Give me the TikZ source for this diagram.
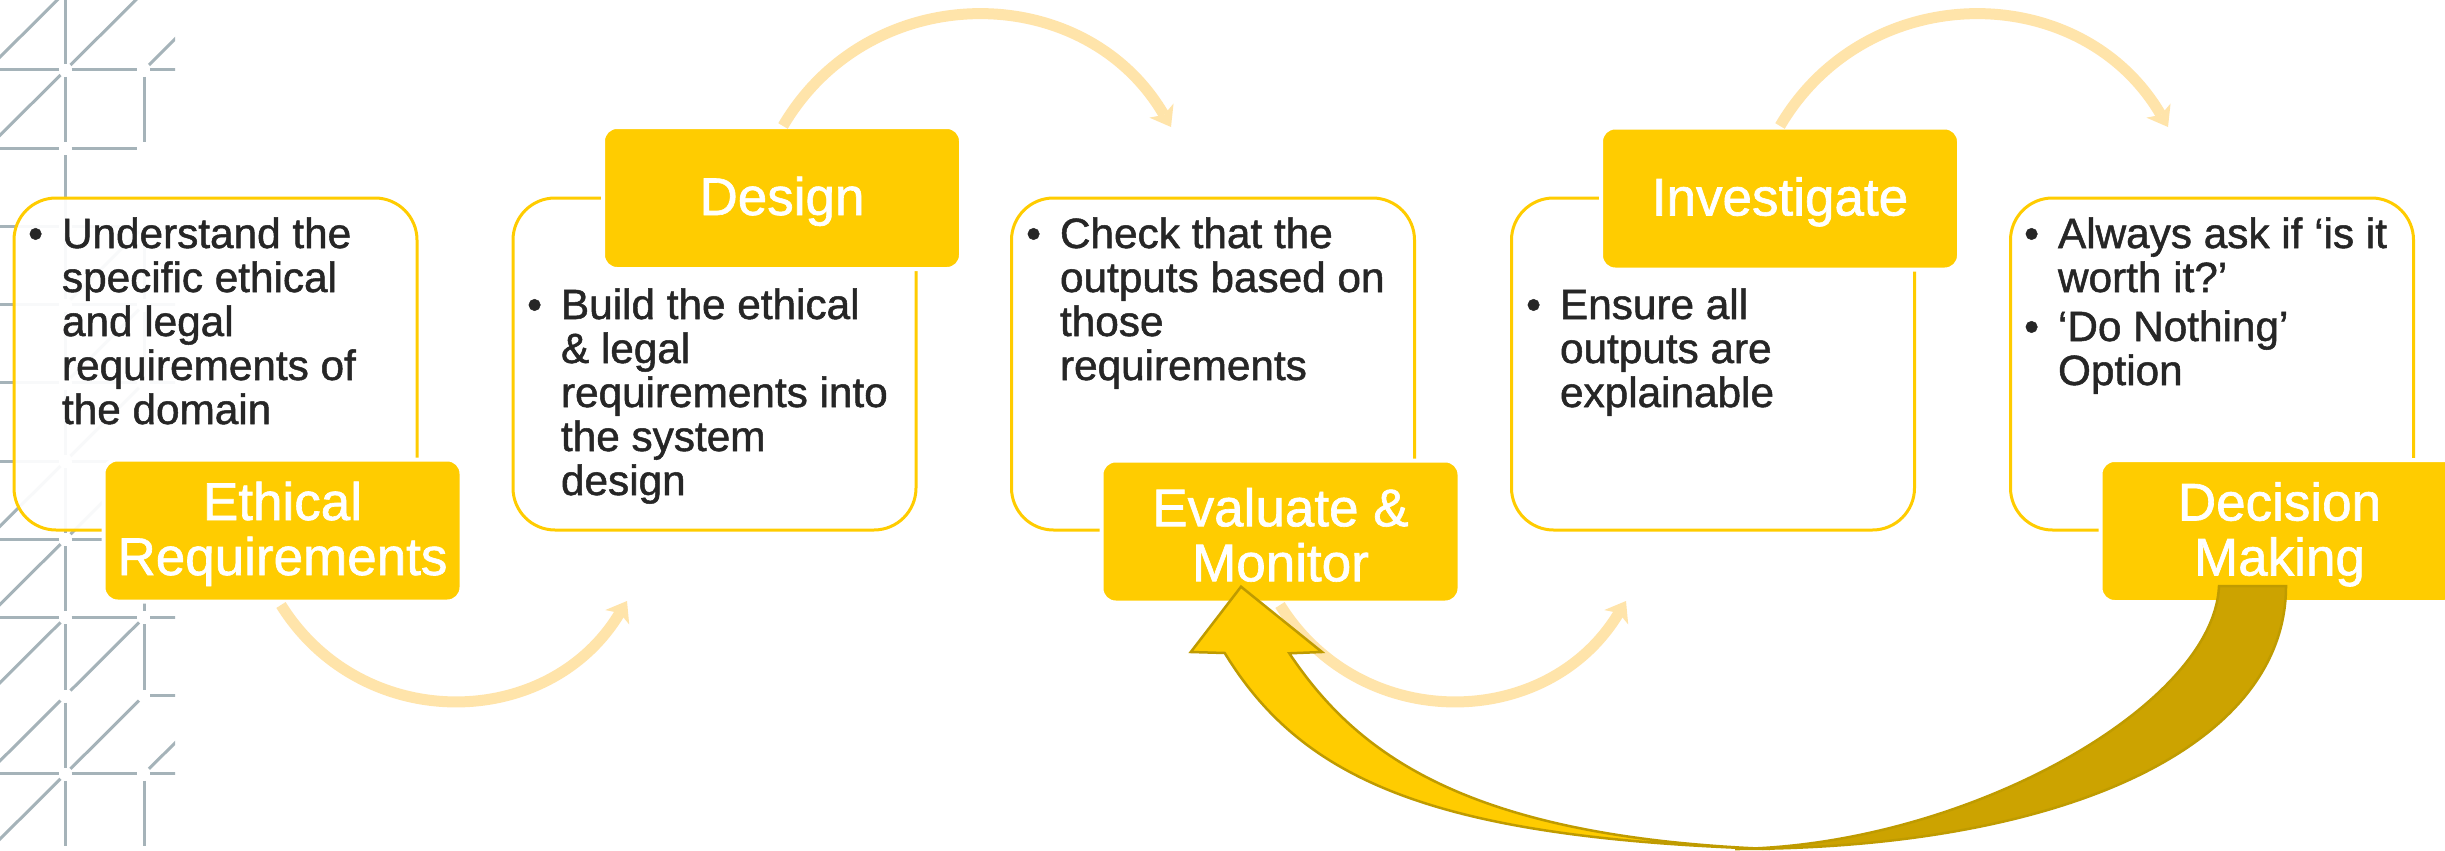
\documentclass[tikz,border=0pt]{standalone}
\usepackage{fontspec}
\setmainfont{Liberation Sans}[FakeBold=1.2]
\usetikzlibrary{arrows.meta}
\definecolor{gold}{HTML}{FFCC00}
\definecolor{goldback}{HTML}{CCA300}
\definecolor{goldline}{HTML}{BF9B00}
\definecolor{arcc}{HTML}{FFE4AA}
\definecolor{patc}{HTML}{A5B3B9}
\definecolor{txt}{HTML}{262626}
\newcommand\labstrut{\rule{0pt}{45pt}}
\begin{document}
\begin{tikzpicture}[x=1pt,y=-1pt,
  cbox/.style={draw=gold, line width=3pt, fill=white, fill opacity=0.93, rounded corners=42pt,
    minimum width=403pt, minimum height=332pt, inner sep=0pt},
  lbox/.style={draw=white, line width=4pt, fill=gold, rounded corners=14pt,
    minimum width=358pt, minimum height=142pt, inner sep=0pt, text=white, align=center,
    font=\fontsize{53}{55}\selectfont},
  ctext/.style={anchor=base west, inner sep=0pt, text=txt, font=\fontsize{42.3}{44}\selectfont},
  flow/.style={draw=arcc, line width=11pt, -{Stealth[length=19pt,width=28pt,inset=5pt,line width=0pt]}},
  pat/.style={draw=patc, line width=3pt},
  bigarrow/.style={draw=goldline, line width=2.5pt, line join=miter},
]
\useasboundingbox (0,0) rectangle (2445,851);
\fill[white] (0,0) rectangle (2445,851);

% background pattern
\begin{scope}
\clip (0,0) rectangle (175,851);
\foreach \i/\j in {0/1,1/1,2/1,0/2,1/2,0/3,1/3,0/4,1/4,2/4,0/5,1/5,2/5,0/6,1/6,0/7,1/7,0/8,1/8,2/8,2/9,0/10,1/10,2/10}
  \draw[pat] ({-13+78.5*\i+6},{-8.2+78.2*\j}) -- ({-13+78.5*(\i+1)-7},{-8.2+78.2*\j});
\foreach \i/\j in {1/0,1/1,2/1,1/2,1/3,2/3,1/4,2/4,1/5,1/6,1/7,2/7,1/8,2/8,1/9,1/10,2/10}
  \draw[pat] ({-13+78.5*\i},{-8.2+78.2*\j+7}) -- ({-13+78.5*\i},{-8.2+78.2*(\j+1)-6});
\foreach \i/\j in {0/0,1/0,2/0,0/1,1/3,1/4,1/5,0/6,1/6,0/7,0/8,1/8,0/9,1/9,2/9,0/10}
  \draw[pat] ({-13+78.5*\i+5},{-8.2+78.2*(\j+1)-5}) -- ({-13+78.5*(\i+1)-5},{-8.2+78.2*\j+5});
\end{scope}

% content boxes
\node[cbox] (b1) at (215.5,364) {};
\node[cbox] (b2) at (714.5,364) {};
\node[cbox] (b3) at (1213,364) {};
\node[cbox] (b4) at (1713,364) {};
\node[cbox] (b5) at (2212,364) {};

% content texts
\node[ctext] (t1) at (28,248) {\begin{tabular}[t]{@{}l@{\hspace{19pt}}l@{}}\textbullet&Understand the\\&specific ethical\\&and legal\\&requirements of\\&the domain\end{tabular}};
\node[ctext] (t2) at (527,319) {\begin{tabular}[t]{@{}l@{\hspace{19pt}}l@{}}\textbullet&Build the ethical\\&\& legal\\&requirements into\\&the system\\&design\end{tabular}};
\node[ctext] (t3) at (1026,248) {\begin{tabular}[t]{@{}l@{\hspace{19pt}}l@{}}\textbullet&Check that the\\&outputs based on\\&those\\&requirements\end{tabular}};
\node[ctext] (t4) at (1526,319) {\begin{tabular}[t]{@{}l@{\hspace{19pt}}l@{}}\textbullet&Ensure all\\&outputs are\\&explainable\end{tabular}};
\node[ctext] (t5) at (2024,248) {\begin{tabular}[t]{@{}l@{\hspace{19pt}}l@{}}\textbullet&Always ask if ‘is it\\&worth it?’\\[5pt]\textbullet&‘Do Nothing’\\&Option\end{tabular}};

% label boxes
\node[lbox] (l1) at (282.5,530.5) {\labstrut Ethical\\Requirements};
\node[lbox] (l2) at (782,198) {\labstrut Design};
\node[lbox] (l3) at (1280.5,531.5) {\labstrut Evaluate \&\\Monitor};
\node[lbox] (l4) at (1780,198.5) {\labstrut Investigate};
\node[lbox] (l5) at (2279.5,531) {\labstrut Decision\\Making};

% light flow arcs
\coordinate (a1s) at (281,605);  \coordinate (a1e) at (627,601);
\coordinate (a2s) at (783,126);  \coordinate (a2e) at (1171,127);
\coordinate (a3s) at (1280,605); \coordinate (a3e) at (1626,601);
\coordinate (a4s) at (1780,126); \coordinate (a4e) at (2168,127);
\draw[flow] (a1s) .. controls +(80.8,129.2) and +(-78.5,130.6) .. (a1e);
\draw[flow] (a2s) .. controls +(87,-148.3) and +(-86.5,-148.6) .. (a2e);
\draw[flow] (a3s) .. controls +(80.8,129.2) and +(-78.5,130.6) .. (a3e);
\draw[flow] (a4s) .. controls +(87,-148.3) and +(-86.5,-148.6) .. (a4e);

% big curved feedback arrow
\filldraw[bigarrow, fill=goldback] (2286,586) .. controls (2286,746) and (2065,849) .. (1735,849)
  .. controls (1965,846) and (2214,706) .. (2219,586) -- cycle;
\filldraw[bigarrow, fill=gold] (1224.7,653) .. controls (1303,781.1) and (1435,838.1) .. (1770,849)
  .. controls (1465,837) and (1356,753) .. (1289.3,653.3) -- (1322,652) -- (1241,586.7) -- (1190.8,652) -- cycle;
\end{tikzpicture}
\end{document}
